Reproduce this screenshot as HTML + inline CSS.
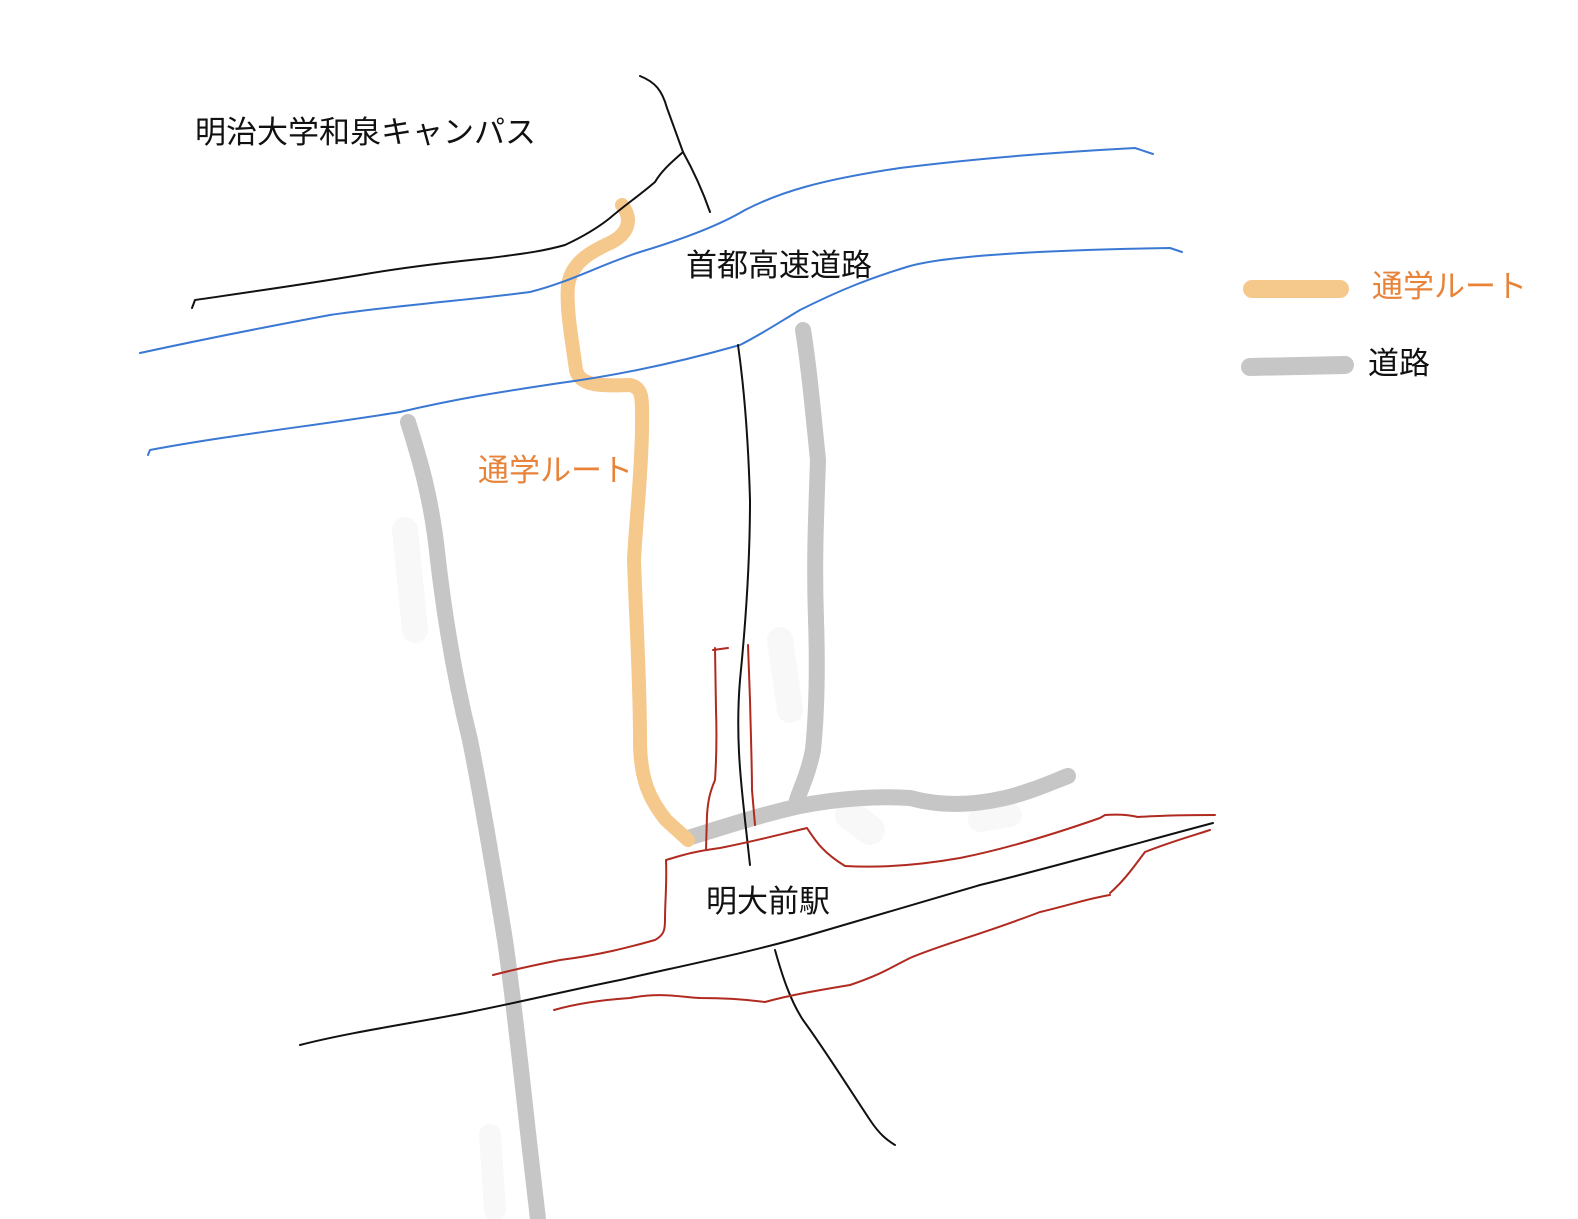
<!DOCTYPE html>
<html><head><meta charset="utf-8"><style>
html,body{margin:0;padding:0;background:#fff;}
svg{display:block;}
text{font-family:"Liberation Sans","Noto Sans CJK JP",sans-serif;font-size:31px;}
</style></head><body>
<svg width="1578" height="1219" viewBox="0 0 1578 1219" xmlns="http://www.w3.org/2000/svg">
<g fill="none" stroke-linecap="round" stroke-linejoin="round">
<path d="M405,530 L415,630" stroke="#f8f8f8" stroke-width="26"/>
<path d="M780,640 L790,710" stroke="#f8f8f8" stroke-width="26"/>
<path d="M850,815 L870,830" stroke="#f8f8f8" stroke-width="30"/>
<path d="M980,820 L1010,815" stroke="#f8f8f8" stroke-width="24"/>
<path d="M490,1135 L495,1210" stroke="#f8f8f8" stroke-width="22"/>
<path d="M408,422 C420,460 432,500 438,560 C445,620 455,680 470,740 C482,800 492,860 505,940 C515,1010 522,1080 530,1150 L538,1219" stroke="#c6c6c6" stroke-width="16"/>
<path d="M803,330 C808,360 812,400 818,460 C816,520 814,560 816,620 C818,680 816,720 813,750 C808,775 800,790 797,800" stroke="#c6c6c6" stroke-width="16"/>
<path d="M688,838 C720,828 760,815 800,806 C840,798 880,796 910,798 C940,806 970,806 1005,798 C1030,792 1050,783 1068,776" stroke="#c6c6c6" stroke-width="16"/>
<path d="M622,205 C632,218 630,232 612,242 C590,252 572,262 568,285 C566,310 572,340 576,370 C580,386 600,386 630,385 C644,388 642,400 642,430 C641,480 636,520 634,560 C636,620 640,680 640,740 C640,780 650,800 666,820 L688,840" stroke="#f5c88c" stroke-width="14"/>
<path d="M140,353 C200,340 260,328 330,315 C400,305 470,300 530,292 C570,282 600,265 640,252 C680,240 720,225 745,210 C780,192 820,180 900,168 C980,158 1060,152 1135,148 L1153,154" stroke="#3a78d4" stroke-width="2"/>
<path d="M148,455 L150,450 C230,435 320,425 400,412 C460,398 500,392 560,383 C620,375 680,362 740,345 C760,335 775,325 800,310 C840,290 870,278 910,266 C950,255 1050,250 1170,248 L1182,252" stroke="#3a78d4" stroke-width="2"/>
<path d="M640,76 C655,82 662,90 667,108 L683,152 C693,170 703,192 710,212" stroke="#111" stroke-width="2"/>
<path d="M683,152 C672,162 662,170 655,182 C640,195 625,205 610,218 C595,230 580,238 565,245 C540,252 520,254 490,258 C440,263 400,268 360,275 C300,285 250,292 195,300 L192,308" stroke="#111" stroke-width="2"/>
<path d="M738,345 C743,380 748,430 750,500 C750,560 746,620 740,680 C735,740 742,790 745,820 L750,865" stroke="#111" stroke-width="2"/>
<path d="M300,1045 C350,1032 420,1022 470,1012 C530,1000 570,990 620,980 C700,962 760,950 820,932 C880,914 930,900 980,885 C1050,868 1130,845 1213,823" stroke="#111" stroke-width="2"/>
<path d="M775,950 C782,975 790,1000 803,1020 C825,1050 850,1090 870,1120 C880,1135 887,1140 895,1145" stroke="#111" stroke-width="2"/>
<g stroke="#b02a20" stroke-width="2">
<path d="M713,650 L728,648 M715,648 L716,710 C717,740 716,765 715,780 C710,792 708,800 707,815 L706,850"/>
<path d="M748,645 L750,700 C751,740 752,770 752,790 L755,825"/>
<path d="M493,975 C520,968 540,964 560,960 C600,955 630,947 655,940 C664,935 665,930 665,920 C665,900 667,885 666,860 C680,856 690,852 720,848 C760,840 790,832 807,828 C815,840 822,852 845,866 C880,868 920,865 960,858 C1010,848 1060,832 1100,818 L1105,815 C1120,814 1130,815 1138,817 C1170,815 1200,815 1215,815"/>
<path d="M554,1010 C575,1004 600,1000 630,998 C660,992 680,997 700,998 C730,998 750,1000 765,1002 C790,995 820,990 850,985 C880,975 890,968 910,958 C940,945 980,935 1040,912 C1070,905 1090,898 1110,895 M1110,893 C1125,880 1135,865 1145,852 C1170,842 1195,835 1210,830"/>
</g>
<path d="M1252,289 L1340,289" stroke="#f5c88c" stroke-width="18"/>
<path d="M1250,367 L1345,365" stroke="#c6c6c6" stroke-width="18"/>
</g>
<text x="195" y="143" fill="#111">明治大学和泉キャンパス</text>
<text x="686" y="276" fill="#111">首都高速道路</text>
<text x="478" y="481" fill="#e8833a">通学ルート</text>
<text x="706" y="912" fill="#111">明大前駅</text>
<text x="1372" y="297" fill="#e8833a">通学ルート</text>
<text x="1368" y="374" fill="#111">道路</text>
</svg>
</body></html>
